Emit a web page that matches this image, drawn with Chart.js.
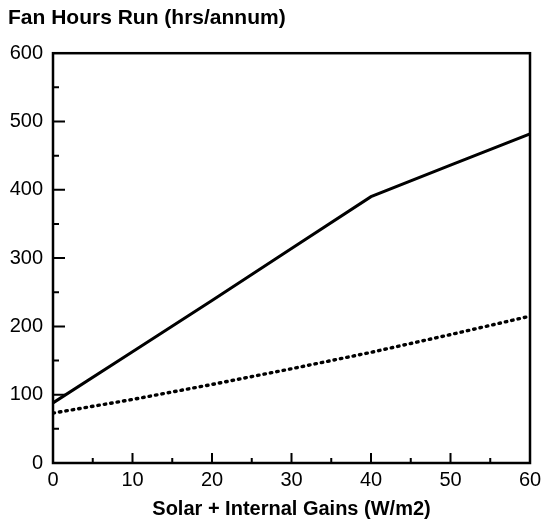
<!DOCTYPE html>
<html><head><meta charset="utf-8">
<script src="https://cdn.jsdelivr.net/npm/chart.js@4"></script>
<style>html,body{margin:0;padding:0;background:#fff}#wrap{width:543px;height:525px}</style>
</head><body><div id="wrap"><canvas id="c"></canvas></div>
<script>
const gains = [0, 10, 20, 30, 40, 50, 60];
const solidHours = [88, 163, 238, 314, 390, 436, 482];
const dottedHours = [73, 93, 115, 138, 162, 188, 215];
const titleText = 'Fan Hours Run (hrs/annum)';
const xTitle = 'Solar + Internal Gains (W/m2)';

const FONT = "'Liberation Sans', Arial, Helvetica, sans-serif";

const frame = {
  id: 'frame',
  afterDatasetsDraw(chart) {
    const {ctx, chartArea: a, scales: {x, y}} = chart;
    ctx.save();
    ctx.strokeStyle = '#000';
    ctx.lineWidth = 2.5;
    ctx.strokeRect(a.left, a.top, a.right - a.left, a.bottom - a.top);
    ctx.lineWidth = 2;
    ctx.beginPath();
    for (let v = 50; v < 600; v += 50) {
      const py = y.getPixelForValue(v);
      const len = v % 100 === 0 ? 12 : 6;
      ctx.moveTo(a.left, py); ctx.lineTo(a.left + len, py);
    }
    for (let v = 5; v < 60; v += 5) {
      const px = x.getPixelForValue(v);
      const len = v % 10 === 0 ? 10 : 5;
      ctx.moveTo(px, a.bottom); ctx.lineTo(px, a.bottom - len);
    }
    ctx.stroke();
    ctx.restore();
  }
};

new Chart(document.getElementById('c'), {
  type: 'line',
  data: {
    labels: gains,
    datasets: [
      {data: gains.map((g, i) => ({x: g, y: solidHours[i]})), borderColor: '#000', borderWidth: 3, pointRadius: 0, tension: 0},
      {data: gains.map((g, i) => ({x: g, y: dottedHours[i]})), borderColor: '#000', borderWidth: 3.4, borderDash: [1.5, 5], borderCapStyle: 'round', pointRadius: 0, tension: 0}
    ]
  },
  options: {
    responsive: true, maintainAspectRatio: false, animation: false,
    layout: {padding: {left: 8, right: 0, top: 6, bottom: 4}},
    plugins: {
      legend: {display: false}, tooltip: {enabled: false},
      title: {display: true, text: titleText, align: 'start', color: '#000',
        font: {family: FONT, size: 21, weight: 'bold'}, padding: {top: 0, bottom: 22}}
    },
    scales: {
      x: {type: 'linear', min: 0, max: 60,
        afterFit(s) { s.height = 58; s.paddingRight = 13; },
        ticks: {stepSize: 10, color: '#000', font: {family: FONT, size: 20}, padding: 5},
        grid: {display: false, drawTicks: false}, border: {display: false},
        title: {display: true, text: xTitle, color: '#000', font: {family: FONT, size: 20, weight: 'bold'}, padding: {top: 3, bottom: 0}}
      },
      y: {min: 0, max: 600,
        afterFit(s) { s.width = 45; },
        ticks: {stepSize: 100, color: '#000', font: {family: FONT, size: 20}, padding: 10},
        grid: {display: false, drawTicks: false}, border: {display: false}
      }
    }
  },
  plugins: [frame]
});
</script></body></html>
